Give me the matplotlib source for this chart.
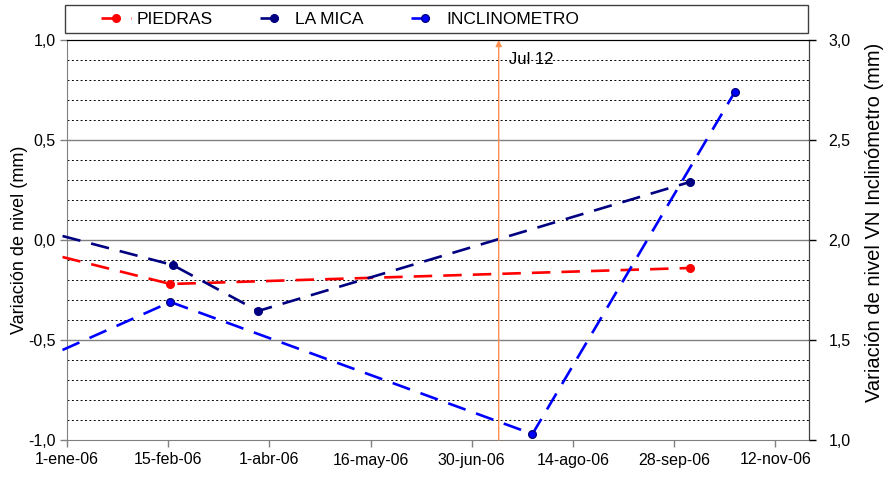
import datetime as dt
import matplotlib
matplotlib.use("Agg")
import matplotlib.pyplot as plt
import matplotlib.dates as mdates
from matplotlib.patches import Rectangle
from matplotlib.ticker import MultipleLocator, FuncFormatter, FixedLocator

plt.rcParams['font.family'] = ['Liberation Sans', 'DejaVu Sans']

# data
piedras_dates = ["2005-12-30", "2006-02-16", "2006-10-05"]
piedras_vals = [-0.085, -0.22, -0.14]

mica_dates = ["2005-12-30", "2006-02-17", "2006-03-27", "2006-10-05"]
mica_vals = [0.02, -0.125, -0.355, 0.29]

incl_dates = ["2005-12-30", "2006-02-16", "2006-07-27", "2006-10-25"]
incl_vals = [1.45, 1.69, 1.03, 2.74]  # right axis

series_names = ["PIEDRAS", "LA MICA", "INCLINOMETRO"]
meses = ["ene", "feb", "mar", "abr", "may", "jun",
         "jul", "ago", "sep", "oct", "nov", "dic"]

event_date = "2006-07-12"
event_label = "Jul 12"


def to_num(dates):
    return [mdates.date2num(dt.datetime.strptime(d, "%Y-%m-%d")) for d in dates]


W, H = 883, 482
fig = plt.figure(figsize=(W / 100, H / 100), dpi=100)
ax = fig.add_axes([67 / W, 1 - 440 / H, (809 - 67) / W, 400 / H])
ax2 = ax.twinx()

x0 = mdates.date2num(dt.datetime(2006, 1, 1))
ax.set_xlim(x0, x0 + 330)
ax.set_ylim(-1.0, 1.0)
ax2.set_ylim(1.0, 3.0)

# grid: dotted every 0.1, solid grey at 0.5
for v in [i / 10 for i in range(-9, 10)]:
    if abs(v * 2 - round(v * 2)) < 1e-9:
        ax.axhline(v, color='#808080', lw=1.0, zorder=1)
    else:
        ax.axhline(v, color='black', lw=0.7, ls=(0, (2, 2.5)), zorder=1)

lw = 1.9
dash = (0, (7.0, 4.2))
l1, = ax.plot(to_num(piedras_dates), piedras_vals, color='#FF0000', lw=lw,
              ls=dash, marker='o', ms=5.5, markevery=list(range(1, len(piedras_vals))),
              clip_on=False, zorder=3, label=series_names[0])
l2, = ax.plot(to_num(mica_dates), mica_vals, color='#000080', lw=lw,
              ls=dash, marker='o', ms=5.5, markevery=list(range(1, len(mica_vals))),
              clip_on=False, zorder=3, label=series_names[1])
l3, = ax2.plot(to_num(incl_dates), incl_vals, color='#0000FF', lw=lw,
               ls=dash, marker='o', mfc='#0000FF', mec='#000080', ms=5.5,
               markevery=list(range(1, len(incl_vals))),
               clip_on=False, zorder=3, label=series_names[2])

# event arrow
ev = to_num([event_date])[0]
ax.annotate('', xy=(ev, 1.0), xytext=(ev, -1.0),
            arrowprops=dict(arrowstyle='-|>', color='#FF9050', lw=1.0,
                            mutation_scale=9, shrinkA=0, shrinkB=0), zorder=4)
ax.text(ev + 4.5, 0.9, event_label, fontsize=12, va='center', ha='left', zorder=5)

# x axis
ax.xaxis.set_major_locator(FixedLocator([x0 + 45 * k for k in range(8)]))


def fmt_date(x, pos):
    d = mdates.num2date(x)
    return f"{d.day}-{meses[d.month - 1]}-{d.strftime('%y')}"


ax.xaxis.set_major_formatter(FuncFormatter(fmt_date))
ax.yaxis.set_major_locator(MultipleLocator(0.5))
ax2.yaxis.set_major_locator(MultipleLocator(0.5))
comma = FuncFormatter(lambda v, p: f"{v:.1f}".replace('.', ','))
ax.yaxis.set_major_formatter(comma)
ax2.yaxis.set_major_formatter(comma)

for a in (ax, ax2):
    a.tick_params(axis='both', direction='out', length=5, width=1,
                  labelsize=11.5, pad=3, colors='black')
ax.tick_params(axis='x', colors='#808080', labelcolor='black', pad=4)
ax.tick_params(axis='y', colors='#808080', labelcolor='black')
ax2.tick_params(axis='y', pad=9)

ax.spines['left'].set_color('#808080')
ax.spines['bottom'].set_color('#808080')
ax2.spines['left'].set_visible(False)
ax2.spines['bottom'].set_visible(False)
ax2.spines['top'].set_color('black')
ax2.spines['right'].set_color('#404040')
ax.spines['top'].set_color('black')

ax.set_ylabel("Variación de nivel (mm)", fontsize=13, labelpad=0)
fig.text(875 / W, 1 - 222 / H, "Variación de nivel VN Inclinómetro (mm)",
         rotation=90, fontsize=14.5, ha='center', va='center')

# legend box across the top
fig.patches.append(Rectangle((65 / W, 1 - 33 / H), 743 / W, 28 / H,
                             transform=fig.transFigure, fill=False,
                             edgecolor='#404040', lw=1.0))
fig.legend(handles=[l1, l2, l3], loc='center left',
           bbox_to_anchor=(101 / W, 1 - 19 / H), frameon=False, ncol=3,
           prop={'size': 12.5}, handlelength=1.7, handletextpad=0.35,
           columnspacing=2.7, borderpad=0, borderaxespad=0, numpoints=1)

fig.savefig("out.png", dpi=100)
